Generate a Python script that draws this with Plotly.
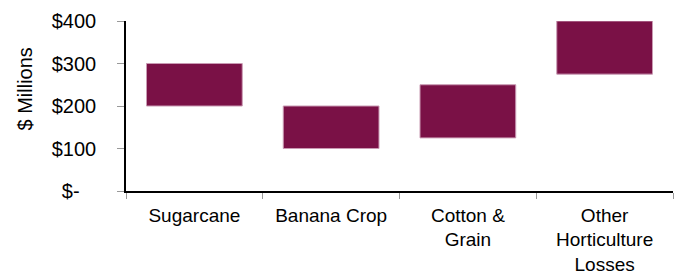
import plotly.graph_objects as go

categories = ["Sugarcane", "Banana Crop", "Cotton &<br>Grain", "Other<br>Horticulture<br>Losses"]
low_values = [200, 100, 125, 275]
high_values = [300, 200, 250, 400]
y_tick_values = [0, 100, 200, 300, 400]
y_tick_labels = ["$-\u00a0\u00a0\u00a0", "$100", "$200", "$300", "$400"]
y_title = "$ Millions"

spans = [h - l for h, l in zip(high_values, low_values)]

fig = go.Figure()
fig.add_trace(go.Bar(
    x=categories,
    y=spans,
    base=low_values,
    width=0.7,
    marker=dict(color="#7A1146", line=dict(color="#C99AB3", width=1)),
    hoverinfo="skip",
))

font = dict(family="Liberation Sans, Arial, sans-serif", size=20, color="black")
xfont = dict(family="Liberation Sans, Arial, sans-serif", size=19, color="black")

# page body has an 8px default margin, so the figure is sized to fit the window
fig.update_layout(
    width=676,
    height=267,
    margin=dict(l=118, r=11, t=13, b=84),
    paper_bgcolor="white",
    plot_bgcolor="white",
    showlegend=False,
    font=font,
    xaxis=dict(
        automargin=False,
        showline=True,
        linecolor="black",
        linewidth=1.5,
        ticks="outside",
        tickson="boundaries",
        ticklen=6,
        tickcolor="#999999",
        tickwidth=1,
        showgrid=False,
        tickfont=xfont,
        ticklabelstandoff=6,
    ),
    yaxis=dict(
        automargin=False,
        range=[0, 400],
        tickvals=y_tick_values,
        ticktext=y_tick_labels,
        showline=True,
        linecolor="black",
        linewidth=1.5,
        ticks="outside",
        ticklen=7,
        tickcolor="#999999",
        tickwidth=1,
        showgrid=False,
        zeroline=False,
        tickfont=font,
        ticklabelstandoff=17,
    ),
    annotations=[dict(
        text=y_title,
        xref="paper", yref="paper",
        x=0, y=0.597,
        xshift=-101,
        xanchor="center", yanchor="middle",
        textangle=-90,
        showarrow=False,
        font=font,
    )],
)

fig.write_html("out.html")
